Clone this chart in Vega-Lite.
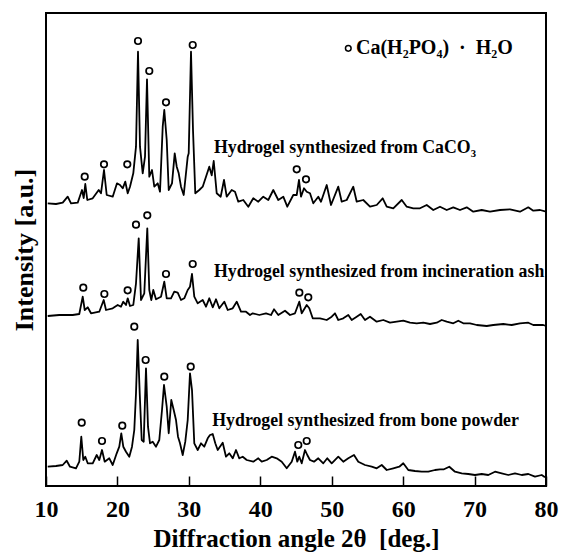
{
  "$schema": "https://vega.github.io/schema/vega-lite/v6.json",
  "width": 500,
  "height": 473,
  "autosize": {"type": "none"},
  "padding": {"left": 46, "top": 13, "right": 19, "bottom": 67},
  "background": "white",
  "config": {
    "view": {"stroke": "black", "strokeWidth": 2},
    "font": "Liberation Serif"
  },
  "datasets": {
    "xrd": [
      {"series":"CaCO3","theta":10.24,"I":282.7},{"series":"CaCO3","theta":11.4,"I":282},{"series":"CaCO3","theta":12.34,"I":283.3},{"series":"CaCO3","theta":13.04,"I":289.3},{"series":"CaCO3","theta":13.5,"I":282.7},{"series":"CaCO3","theta":14.44,"I":283.3},{"series":"CaCO3","theta":15.04,"I":296},{"series":"CaCO3","theta":15.28,"I":288},{"series":"CaCO3","theta":15.5,"I":302},{"series":"CaCO3","theta":15.78,"I":286},{"series":"CaCO3","theta":16.54,"I":287.7},{"series":"CaCO3","theta":17.38,"I":296},{"series":"CaCO3","theta":17.7,"I":292.7},{"series":"CaCO3","theta":18.12,"I":316},{"series":"CaCO3","theta":18.5,"I":291},{"series":"CaCO3","theta":19.34,"I":289.3},{"series":"CaCO3","theta":19.94,"I":302.7},{"series":"CaCO3","theta":20.36,"I":301},{"series":"CaCO3","theta":20.74,"I":297.7},{"series":"CaCO3","theta":21.1,"I":304.3},{"series":"CaCO3","theta":21.44,"I":292.7},{"series":"CaCO3","theta":21.76,"I":299.3},{"series":"CaCO3","theta":22.22,"I":312.7},{"series":"CaCO3","theta":22.6,"I":339.3},{"series":"CaCO3","theta":22.88,"I":434.3},{"series":"CaCO3","theta":23.16,"I":339.3},{"series":"CaCO3","theta":23.54,"I":312.7},{"series":"CaCO3","theta":23.86,"I":329.3},{"series":"CaCO3","theta":24.14,"I":406.7},{"series":"CaCO3","theta":24.46,"I":309.3},{"series":"CaCO3","theta":24.84,"I":316},{"series":"CaCO3","theta":25.16,"I":299.3},{"series":"CaCO3","theta":25.64,"I":302.7},{"series":"CaCO3","theta":25.96,"I":294.3},{"series":"CaCO3","theta":26.34,"I":359.3},{"series":"CaCO3","theta":26.56,"I":376},{"series":"CaCO3","theta":26.9,"I":346},{"series":"CaCO3","theta":27.18,"I":296},{"series":"CaCO3","theta":27.64,"I":302.7},{"series":"CaCO3","theta":28.02,"I":332.7},{"series":"CaCO3","theta":28.3,"I":319.3},{"series":"CaCO3","theta":28.58,"I":312.7},{"series":"CaCO3","theta":28.9,"I":299.3},{"series":"CaCO3","theta":29.28,"I":291},{"series":"CaCO3","theta":29.84,"I":329.3},{"series":"CaCO3","theta":29.98,"I":332.7},{"series":"CaCO3","theta":30.3,"I":434.3},{"series":"CaCO3","theta":30.58,"I":356},{"series":"CaCO3","theta":30.9,"I":292.7},{"series":"CaCO3","theta":31.46,"I":296},{"series":"CaCO3","theta":31.94,"I":299.3},{"series":"CaCO3","theta":32.4,"I":309.3},{"series":"CaCO3","theta":32.86,"I":319.3},{"series":"CaCO3","theta":33.2,"I":310.7},{"series":"CaCO3","theta":33.48,"I":325},{"series":"CaCO3","theta":33.9,"I":292.7},{"series":"CaCO3","theta":34.46,"I":289.3},{"series":"CaCO3","theta":34.92,"I":306},{"series":"CaCO3","theta":35.3,"I":289.3},{"series":"CaCO3","theta":36.0,"I":296},{"series":"CaCO3","theta":36.46,"I":294.3},{"series":"CaCO3","theta":36.92,"I":284.3},{"series":"CaCO3","theta":37.62,"I":286},{"series":"CaCO3","theta":38.32,"I":279.3},{"series":"CaCO3","theta":39.02,"I":287.7},{"series":"CaCO3","theta":39.72,"I":284.3},{"series":"CaCO3","theta":40.42,"I":289.3},{"series":"CaCO3","theta":41.12,"I":286},{"series":"CaCO3","theta":41.82,"I":296},{"series":"CaCO3","theta":42.52,"I":286},{"series":"CaCO3","theta":43.22,"I":289.3},{"series":"CaCO3","theta":43.78,"I":279.3},{"series":"CaCO3","theta":44.62,"I":291},{"series":"CaCO3","theta":45.1,"I":291},{"series":"CaCO3","theta":45.42,"I":306},{"series":"CaCO3","theta":45.7,"I":289.3},{"series":"CaCO3","theta":46.12,"I":297.7},{"series":"CaCO3","theta":46.5,"I":294.3},{"series":"CaCO3","theta":46.96,"I":292.7},{"series":"CaCO3","theta":47.42,"I":282.7},{"series":"CaCO3","theta":48.12,"I":289.3},{"series":"CaCO3","theta":48.5,"I":284.3},{"series":"CaCO3","theta":49.3,"I":301},{"series":"CaCO3","theta":49.9,"I":281},{"series":"CaCO3","theta":50.92,"I":299.3},{"series":"CaCO3","theta":51.4,"I":284.3},{"series":"CaCO3","theta":52.1,"I":286},{"series":"CaCO3","theta":53.02,"I":299.3},{"series":"CaCO3","theta":53.5,"I":284.3},{"series":"CaCO3","theta":54.42,"I":286},{"series":"CaCO3","theta":55.36,"I":279.3},{"series":"CaCO3","theta":56.3,"I":281},{"series":"CaCO3","theta":57.14,"I":287.7},{"series":"CaCO3","theta":57.7,"I":279.3},{"series":"CaCO3","theta":58.62,"I":277.7},{"series":"CaCO3","theta":59.8,"I":286},{"series":"CaCO3","theta":60.5,"I":279.3},{"series":"CaCO3","theta":61.42,"I":277.7},{"series":"CaCO3","theta":62.36,"I":277.7},{"series":"CaCO3","theta":63.3,"I":281},{"series":"CaCO3","theta":64.22,"I":276},{"series":"CaCO3","theta":65.16,"I":279.3},{"series":"CaCO3","theta":66.1,"I":276},{"series":"CaCO3","theta":67.02,"I":278.7},{"series":"CaCO3","theta":67.96,"I":276},{"series":"CaCO3","theta":68.9,"I":278.7},{"series":"CaCO3","theta":69.82,"I":274.3},{"series":"CaCO3","theta":71.0,"I":276},{"series":"CaCO3","theta":72.16,"I":274.3},{"series":"CaCO3","theta":73.56,"I":276},{"series":"CaCO3","theta":74.96,"I":276.7},{"series":"CaCO3","theta":76.36,"I":274.3},{"series":"CaCO3","theta":77.52,"I":278.7},{"series":"CaCO3","theta":78.22,"I":275.3},{"series":"CaCO3","theta":79.16,"I":276},{"series":"CaCO3","theta":80.0,"I":274.3},
      {"series":"ash","theta":10.24,"I":170},{"series":"ash","theta":11.86,"I":171},{"series":"ash","theta":13.74,"I":171},{"series":"ash","theta":14.66,"I":172},{"series":"ash","theta":15.14,"I":189.3},{"series":"ash","theta":15.42,"I":176},{"series":"ash","theta":15.84,"I":178.7},{"series":"ash","theta":16.3,"I":172.7},{"series":"ash","theta":17.46,"I":174.3},{"series":"ash","theta":18.08,"I":186},{"series":"ash","theta":18.4,"I":176},{"series":"ash","theta":19.34,"I":177.7},{"series":"ash","theta":20.04,"I":181},{"series":"ash","theta":20.5,"I":179.3},{"series":"ash","theta":20.82,"I":184.3},{"series":"ash","theta":21.2,"I":181},{"series":"ash","theta":21.44,"I":187.7},{"series":"ash","theta":21.76,"I":180},{"series":"ash","theta":22.22,"I":181},{"series":"ash","theta":22.6,"I":202.7},{"series":"ash","theta":22.98,"I":247.7},{"series":"ash","theta":23.3,"I":186},{"series":"ash","theta":23.76,"I":192.7},{"series":"ash","theta":24.18,"I":257.7},{"series":"ash","theta":24.46,"I":196},{"series":"ash","theta":24.74,"I":186},{"series":"ash","theta":25.02,"I":196},{"series":"ash","theta":25.4,"I":186.7},{"series":"ash","theta":26.1,"I":189.3},{"series":"ash","theta":26.56,"I":204.3},{"series":"ash","theta":26.9,"I":187.7},{"series":"ash","theta":27.5,"I":187.7},{"series":"ash","theta":27.96,"I":194.3},{"series":"ash","theta":28.44,"I":193.3},{"series":"ash","theta":28.9,"I":186},{"series":"ash","theta":29.36,"I":187.7},{"series":"ash","theta":29.84,"I":196},{"series":"ash","theta":30.16,"I":199.3},{"series":"ash","theta":30.44,"I":212},{"series":"ash","theta":30.76,"I":189.3},{"series":"ash","theta":31.24,"I":182.7},{"series":"ash","theta":31.94,"I":186},{"series":"ash","theta":32.4,"I":179.3},{"series":"ash","theta":32.86,"I":187.7},{"series":"ash","theta":33.34,"I":178.7},{"series":"ash","theta":33.8,"I":186.7},{"series":"ash","theta":34.26,"I":177.7},{"series":"ash","theta":34.96,"I":184.3},{"series":"ash","theta":35.44,"I":176},{"series":"ash","theta":36.14,"I":177.7},{"series":"ash","theta":36.7,"I":184.3},{"series":"ash","theta":37.3,"I":174.3},{"series":"ash","theta":38.0,"I":174.3},{"series":"ash","theta":38.56,"I":171},{"series":"ash","theta":38.94,"I":172.7},{"series":"ash","theta":39.86,"I":171},{"series":"ash","theta":40.8,"I":172.7},{"series":"ash","theta":41.5,"I":171},{"series":"ash","theta":41.92,"I":176.7},{"series":"ash","theta":42.52,"I":171},{"series":"ash","theta":43.46,"I":175.3},{"series":"ash","theta":44.16,"I":171},{"series":"ash","theta":44.86,"I":172.7},{"series":"ash","theta":45.46,"I":184.3},{"series":"ash","theta":45.8,"I":172.7},{"series":"ash","theta":46.5,"I":181},{"series":"ash","theta":46.86,"I":177.7},{"series":"ash","theta":47.34,"I":167.7},{"series":"ash","theta":48.36,"I":167.7},{"series":"ash","theta":49.3,"I":166},{"series":"ash","theta":50.0,"I":169.3},{"series":"ash","theta":50.46,"I":172.7},{"series":"ash","theta":50.92,"I":166},{"series":"ash","theta":51.62,"I":167.7},{"series":"ash","theta":52.32,"I":171},{"series":"ash","theta":52.8,"I":166},{"series":"ash","theta":53.5,"I":169.3},{"series":"ash","theta":54.06,"I":172},{"series":"ash","theta":54.66,"I":166},{"series":"ash","theta":55.36,"I":169.3},{"series":"ash","theta":56.3,"I":164.3},{"series":"ash","theta":57.22,"I":166},{"series":"ash","theta":58.16,"I":163.3},{"series":"ash","theta":59.1,"I":164.3},{"series":"ash","theta":60.02,"I":165.3},{"series":"ash","theta":60.96,"I":163.3},{"series":"ash","theta":61.9,"I":162.7},{"series":"ash","theta":62.82,"I":163.3},{"series":"ash","theta":63.76,"I":162},{"series":"ash","theta":64.7,"I":163.3},{"series":"ash","theta":65.4,"I":166},{"series":"ash","theta":66.1,"I":164.3},{"series":"ash","theta":67.02,"I":162.7},{"series":"ash","theta":67.72,"I":165.3},{"series":"ash","theta":68.42,"I":162.7},{"series":"ash","theta":69.36,"I":162.7},{"series":"ash","theta":70.3,"I":161},{"series":"ash","theta":71.7,"I":160},{"series":"ash","theta":72.62,"I":161},{"series":"ash","theta":74.02,"I":162},{"series":"ash","theta":75.2,"I":161},{"series":"ash","theta":76.36,"I":162.7},{"series":"ash","theta":77.52,"I":163.3},{"series":"ash","theta":78.22,"I":161},{"series":"ash","theta":79.62,"I":161},{"series":"ash","theta":80.0,"I":160},
      {"series":"bone","theta":10.24,"I":19.3},{"series":"bone","theta":11.4,"I":20},{"series":"bone","theta":12.34,"I":21},{"series":"bone","theta":12.9,"I":25.3},{"series":"bone","theta":13.36,"I":19.3},{"series":"bone","theta":14.2,"I":17.7},{"series":"bone","theta":14.66,"I":24.3},{"series":"bone","theta":14.94,"I":49.3},{"series":"bone","theta":15.22,"I":26},{"series":"bone","theta":15.5,"I":29.3},{"series":"bone","theta":15.84,"I":22.7},{"series":"bone","theta":16.54,"I":22.7},{"series":"bone","theta":17.1,"I":31},{"series":"bone","theta":17.46,"I":26},{"series":"bone","theta":17.84,"I":36},{"series":"bone","theta":18.22,"I":24.3},{"series":"bone","theta":18.86,"I":27.7},{"series":"bone","theta":19.34,"I":21},{"series":"bone","theta":19.9,"I":32.7},{"series":"bone","theta":20.26,"I":39.3},{"series":"bone","theta":20.54,"I":52.7},{"series":"bone","theta":20.82,"I":39.3},{"series":"bone","theta":21.2,"I":34.3},{"series":"bone","theta":21.66,"I":29.3},{"series":"bone","theta":22.04,"I":39.3},{"series":"bone","theta":22.36,"I":56},{"series":"bone","theta":22.6,"I":92.7},{"series":"bone","theta":22.84,"I":146},{"series":"bone","theta":23.12,"I":92.7},{"series":"bone","theta":23.4,"I":46},{"series":"bone","theta":23.68,"I":44.3},{"series":"bone","theta":24.0,"I":117.7},{"series":"bone","theta":24.28,"I":59.3},{"series":"bone","theta":24.56,"I":42.7},{"series":"bone","theta":24.94,"I":44.3},{"series":"bone","theta":25.4,"I":39.3},{"series":"bone","theta":25.86,"I":46},{"series":"bone","theta":26.24,"I":76},{"series":"bone","theta":26.52,"I":101},{"series":"bone","theta":26.9,"I":79.3},{"series":"bone","theta":27.18,"I":52.7},{"series":"bone","theta":27.54,"I":86},{"series":"bone","theta":27.88,"I":76},{"series":"bone","theta":28.2,"I":66},{"series":"bone","theta":28.48,"I":49.3},{"series":"bone","theta":28.76,"I":42.7},{"series":"bone","theta":29.14,"I":31},{"series":"bone","theta":29.5,"I":44.3},{"series":"bone","theta":29.84,"I":66},{"series":"bone","theta":30.16,"I":112.7},{"series":"bone","theta":30.44,"I":96},{"series":"bone","theta":30.76,"I":42.7},{"series":"bone","theta":31.24,"I":36},{"series":"bone","theta":31.7,"I":42.7},{"series":"bone","theta":32.16,"I":39.3},{"series":"bone","theta":32.64,"I":47.7},{"series":"bone","theta":32.96,"I":51},{"series":"bone","theta":33.34,"I":52},{"series":"bone","theta":33.7,"I":42.7},{"series":"bone","theta":34.04,"I":36},{"series":"bone","theta":34.74,"I":43.3},{"series":"bone","theta":35.2,"I":29.3},{"series":"bone","theta":35.66,"I":32.7},{"series":"bone","theta":36.14,"I":27.7},{"series":"bone","theta":36.6,"I":36},{"series":"bone","theta":37.06,"I":27.7},{"series":"bone","theta":37.54,"I":29.3},{"series":"bone","theta":38.1,"I":26},{"series":"bone","theta":39.02,"I":24.3},{"series":"bone","theta":39.72,"I":27.7},{"series":"bone","theta":40.2,"I":24.3},{"series":"bone","theta":40.9,"I":26},{"series":"bone","theta":41.6,"I":29.3},{"series":"bone","theta":42.3,"I":27.7},{"series":"bone","theta":43.0,"I":24.3},{"series":"bone","theta":43.7,"I":17.7},{"series":"bone","theta":44.4,"I":24.3},{"series":"bone","theta":44.86,"I":34.3},{"series":"bone","theta":45.18,"I":24.3},{"series":"bone","theta":45.46,"I":29.3},{"series":"bone","theta":45.8,"I":22.7},{"series":"bone","theta":46.26,"I":36},{"series":"bone","theta":46.58,"I":31},{"series":"bone","theta":46.96,"I":26},{"series":"bone","theta":47.52,"I":24.3},{"series":"bone","theta":48.12,"I":27.7},{"series":"bone","theta":48.82,"I":22.7},{"series":"bone","theta":49.38,"I":27.7},{"series":"bone","theta":50.0,"I":22.7},{"series":"bone","theta":50.92,"I":29.3},{"series":"bone","theta":51.62,"I":24.3},{"series":"bone","theta":52.32,"I":27.7},{"series":"bone","theta":53.12,"I":31},{"series":"bone","theta":53.72,"I":24.3},{"series":"bone","theta":54.66,"I":21},{"series":"bone","theta":55.6,"I":19.3},{"series":"bone","theta":56.3,"I":17.7},{"series":"bone","theta":57.0,"I":21},{"series":"bone","theta":57.7,"I":16},{"series":"bone","theta":58.62,"I":17.7},{"series":"bone","theta":59.46,"I":19.3},{"series":"bone","theta":60.02,"I":22.7},{"series":"bone","theta":60.72,"I":16},{"series":"bone","theta":61.66,"I":15},{"series":"bone","theta":62.6,"I":14.3},{"series":"bone","theta":63.52,"I":14.3},{"series":"bone","theta":64.46,"I":16},{"series":"bone","theta":65.16,"I":16.7},{"series":"bone","theta":65.72,"I":16.7},{"series":"bone","theta":66.46,"I":19.3},{"series":"bone","theta":67.26,"I":14.3},{"series":"bone","theta":68.2,"I":12.7},{"series":"bone","theta":69.12,"I":12},{"series":"bone","theta":70.06,"I":11},{"series":"bone","theta":71.0,"I":12},{"series":"bone","theta":71.92,"I":11},{"series":"bone","theta":72.86,"I":14.3},{"series":"bone","theta":73.8,"I":12.7},{"series":"bone","theta":74.72,"I":11},{"series":"bone","theta":75.66,"I":12.7},{"series":"bone","theta":76.6,"I":11},{"series":"bone","theta":77.52,"I":12},{"series":"bone","theta":78.46,"I":9.3},{"series":"bone","theta":79.4,"I":11},{"series":"bone","theta":79.86,"I":8.7}
    ],
    "peaks": [
      {"series":"CaCO3","theta":15.42,"I":309.3},{"series":"CaCO3","theta":18.12,"I":321.7},{"series":"CaCO3","theta":21.38,"I":321.7},{"series":"CaCO3","theta":22.88,"I":445},{"series":"CaCO3","theta":24.46,"I":415},{"series":"CaCO3","theta":26.8,"I":383.7},{"series":"CaCO3","theta":30.54,"I":441},{"series":"CaCO3","theta":45.1,"I":316.7},{"series":"CaCO3","theta":46.4,"I":306.7},
      {"series":"ash","theta":15.22,"I":198.3},{"series":"ash","theta":18.17,"I":192},{"series":"ash","theta":21.43,"I":195.7},{"series":"ash","theta":22.6,"I":261.3},{"series":"ash","theta":24.18,"I":270.7},{"series":"ash","theta":26.8,"I":212},{"series":"ash","theta":30.54,"I":222},{"series":"ash","theta":45.47,"I":193.3},{"series":"ash","theta":46.72,"I":188.7},
      {"series":"bone","theta":15.0,"I":63.3},{"series":"bone","theta":17.84,"I":45},{"series":"bone","theta":20.68,"I":60.3},{"series":"bone","theta":22.36,"I":159.3},{"series":"bone","theta":23.95,"I":126},{"series":"bone","theta":26.56,"I":109.3},{"series":"bone","theta":30.26,"I":119.3},{"series":"bone","theta":45.32,"I":41},{"series":"bone","theta":46.5,"I":45}
    ],
    "labels": [
      {"theta":33.52,"I":332.7,"label":"Hydrogel synthesized from CaCO₃"},
      {"theta":33.52,"I":209,"label":"Hydrogel synthesized from incineration ash"},
      {"theta":33.28,"I":60,"label":"Hydrogel synthesized from bone powder"}
    ],
    "legendSymbol": [{"theta":52.32,"I":437.7}],
    "legendText": [{"theta":53.4,"I":432,"label":"Ca(H₂PO₄)\u2002·\u2002H₂O"}],
    "majorTicks": [{"theta":20},{"theta":30},{"theta":40},{"theta":50},{"theta":60},{"theta":70}],
    "minorTicks": [{"theta":12},{"theta":14},{"theta":16},{"theta":18},{"theta":22},{"theta":24},{"theta":26},{"theta":28},{"theta":32},{"theta":34},{"theta":36},{"theta":38},{"theta":42},{"theta":44},{"theta":46},{"theta":48},{"theta":52},{"theta":54},{"theta":56},{"theta":58},{"theta":62},{"theta":64},{"theta":66},{"theta":68},{"theta":72},{"theta":74},{"theta":76},{"theta":78}]
  },
  "encoding": {
    "y": {
      "field": "I",
      "type": "quantitative",
      "scale": {"domain": [0, 473], "nice": false, "zero": false},
      "axis": {
        "title": "Intensity  [a.u.]",
        "labels": false,
        "ticks": false,
        "domain": false,
        "grid": false,
        "titleFont": "Liberation Serif",
        "titleFontSize": 26,
        "titleFontWeight": "bold",
        "titleColor": "black",
        "titlePadding": 9
      }
    }
  },
  "layer": [
    {
      "data": {"name": "xrd"},
      "mark": {"type": "line", "color": "black", "strokeWidth": 1.8, "strokeJoin": "round"},
      "encoding": {
        "x": {
          "field": "theta",
          "type": "quantitative",
          "scale": {"domain": [10, 80], "nice": false, "zero": false},
          "axis": {
            "orient": "bottom",
            "offset": -10,
            "zindex": 2,
            "values": [10,20,30,40,50,60,70,80],
            "ticks": true,
            "tickSize": 10,
            "tickColor": "#000000",
            "tickWidth": 1.5,
            "domain": false,
            "grid": false,
            "labelFlush": false,
            "labelOverlap": false,
            "labelFont": "Liberation Serif",
            "labelFontSize": 24,
            "labelFontWeight": "bold",
            "labelColor": "black",
            "labelPadding": 11,
            "title": "Diffraction angle 2θ\u00a0 [deg.]",
            "titleFont": "Liberation Serif",
            "titleFontSize": 25,
            "titleFontWeight": "bold",
            "titleColor": "black",
            "titleBaseline": "alphabetic",
            "titleY": 70
          }
        },
        "detail": {"field": "series", "type": "nominal"}
      }
    },
    {
      "data": {"name": "majorTicks"},
      "mark": {"type": "rule", "color": "black", "strokeWidth": 1.3},
      "encoding": {
        "x": {"field": "theta", "type": "quantitative", "axis": null},
        "y": {"datum": 0},
        "y2": {"datum": 10}
      }
    },
    {
      "data": {"name": "majorTicks"},
      "mark": {"type": "rule", "color": "black", "strokeWidth": 1.3},
      "encoding": {
        "x": {"field": "theta", "type": "quantitative", "axis": null},
        "y": {"datum": 473},
        "y2": {"datum": 463}
      }
    },
    {
      "data": {"name": "minorTicks"},
      "mark": {"type": "rule", "color": "black", "strokeWidth": 1.1},
      "encoding": {
        "x": {"field": "theta", "type": "quantitative", "axis": null},
        "y": {"datum": 0},
        "y2": {"datum": 4.5}
      }
    },
    {
      "data": {"name": "minorTicks"},
      "mark": {"type": "rule", "color": "black", "strokeWidth": 1.1},
      "encoding": {
        "x": {"field": "theta", "type": "quantitative", "axis": null},
        "y": {"datum": 473},
        "y2": {"datum": 468.5}
      }
    },
    {
      "data": {"name": "peaks"},
      "mark": {"type": "point", "shape": "circle", "filled": false, "stroke": "black", "strokeWidth": 1.7, "size": 42, "opacity": 1},
      "encoding": {
        "x": {"field": "theta", "type": "quantitative", "axis": null}
      }
    },
    {
      "data": {"name": "labels"},
      "mark": {"type": "text", "align": "left", "baseline": "alphabetic", "font": "Liberation Serif", "fontSize": 17.8, "fontWeight": "bold", "color": "black"},
      "encoding": {
        "x": {"field": "theta", "type": "quantitative", "axis": null},
        "text": {"field": "label"}
      }
    },
    {
      "data": {"name": "legendSymbol"},
      "mark": {"type": "point", "shape": "circle", "filled": false, "stroke": "black", "strokeWidth": 1.5, "size": 32, "opacity": 1},
      "encoding": {
        "x": {"field": "theta", "type": "quantitative", "axis": null}
      }
    },
    {
      "data": {"name": "legendText"},
      "mark": {"type": "text", "align": "left", "baseline": "alphabetic", "font": "Liberation Serif", "fontSize": 20, "fontWeight": "bold", "color": "black"},
      "encoding": {
        "x": {"field": "theta", "type": "quantitative", "axis": null},
        "text": {"field": "label"}
      }
    }
  ],
  "resolve": {"axis": {"x": "independent"}}
}
